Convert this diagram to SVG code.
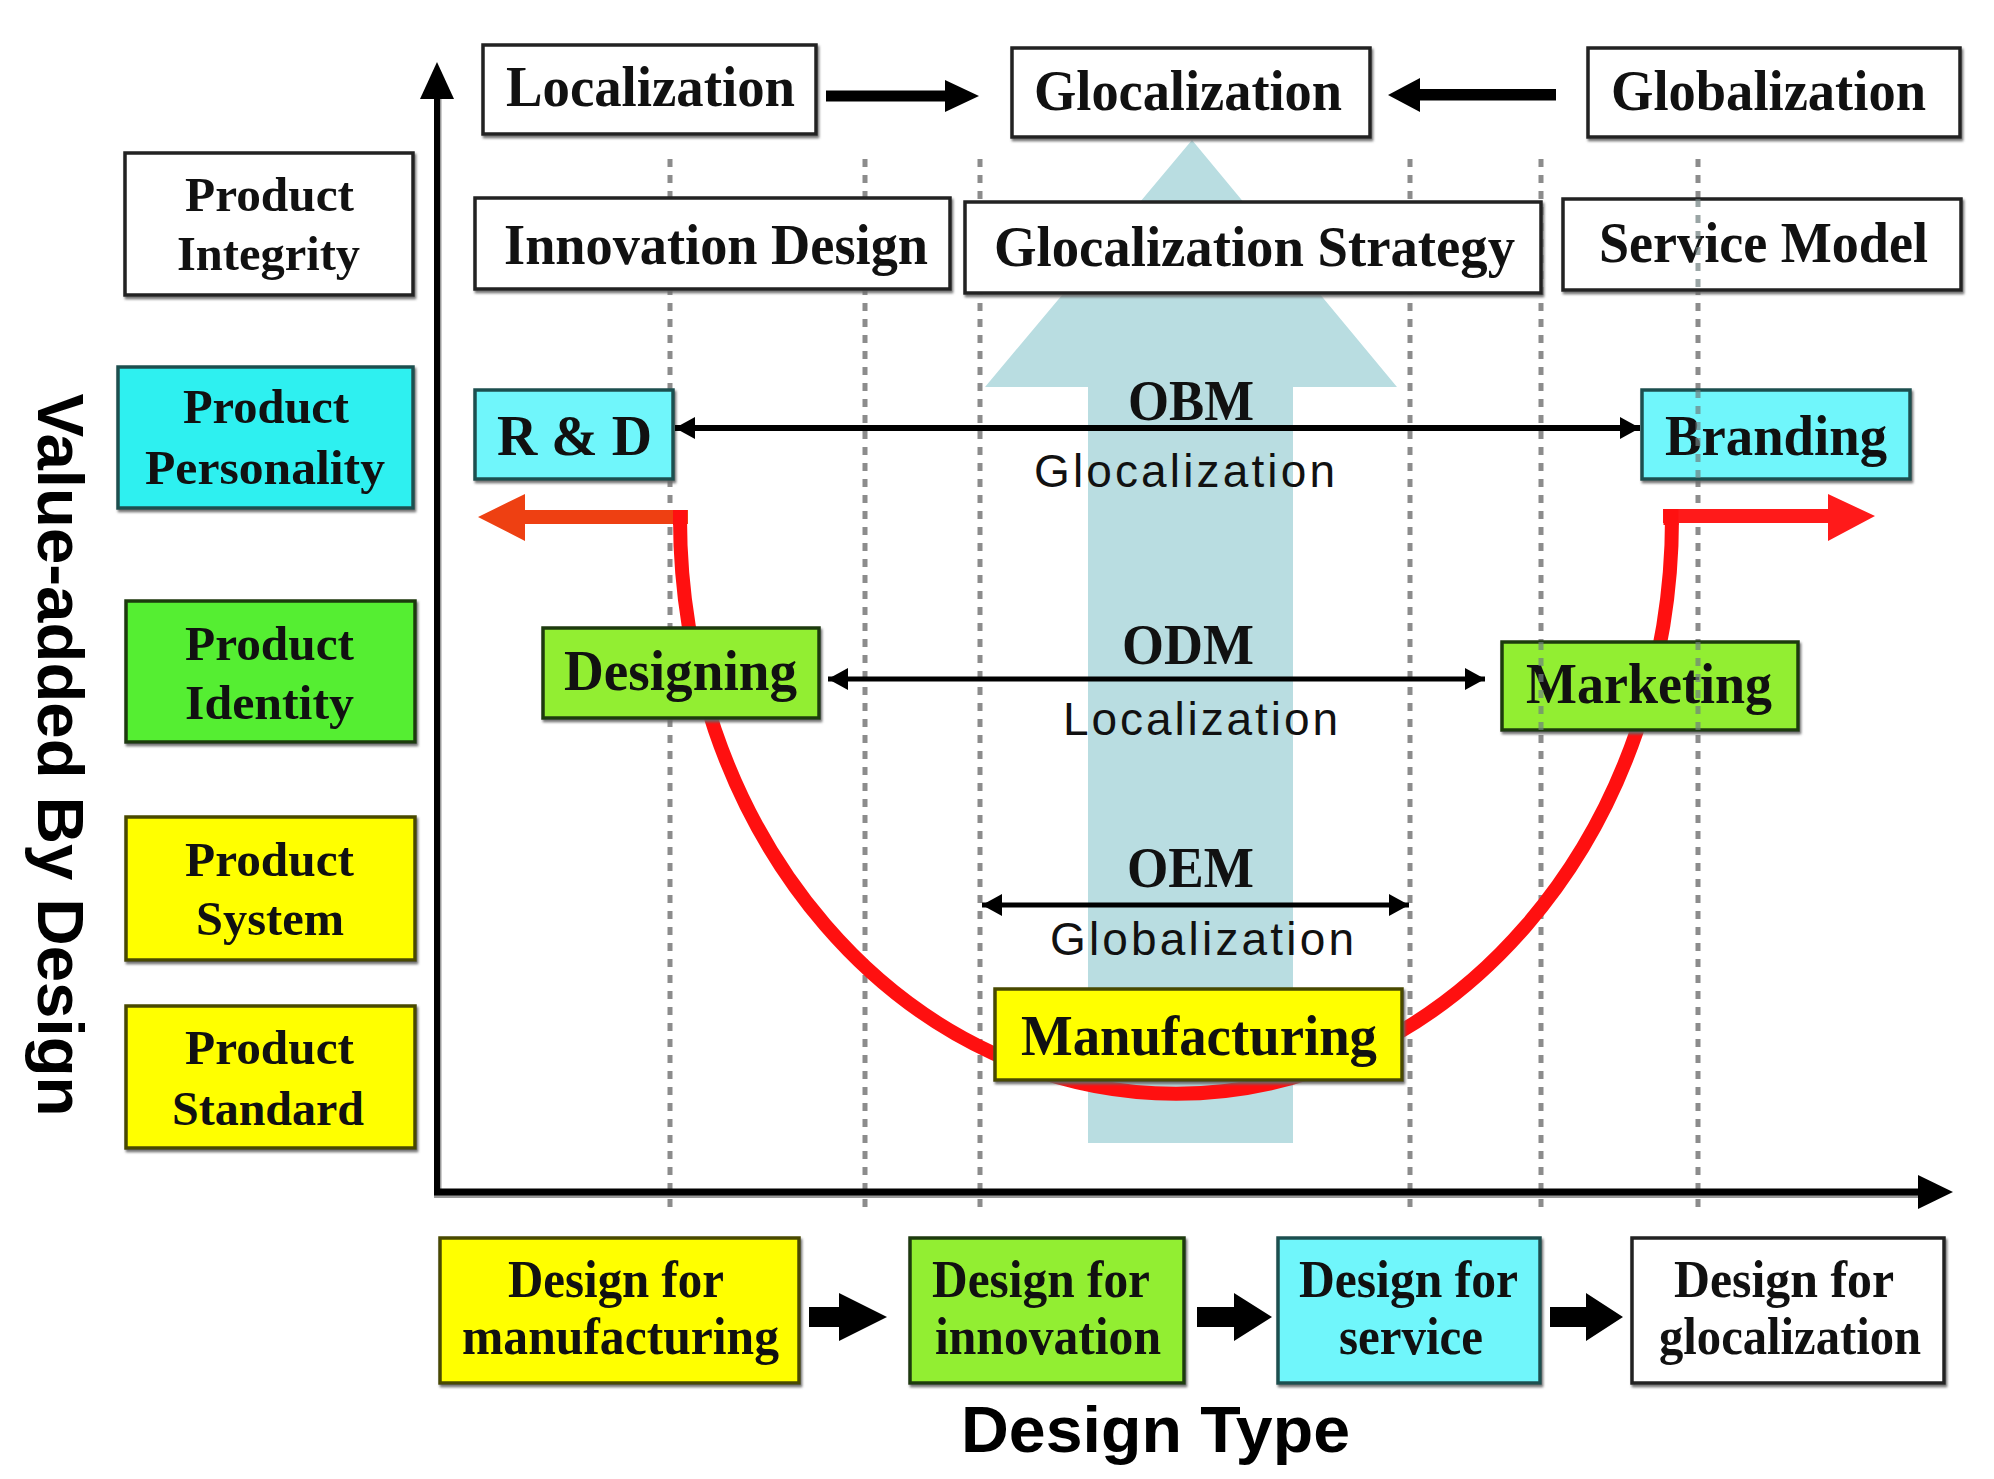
<svg xmlns="http://www.w3.org/2000/svg" width="1994" height="1479" viewBox="0 0 1994 1479">
<defs>
<filter id="sh" x="-5%" y="-5%" width="110%" height="115%"><feDropShadow dx="1.5" dy="2.5" stdDeviation="1" flood-color="#666" flood-opacity="0.9"/></filter>
<marker id="ah" viewBox="0 0 20 22" refX="20" refY="11" markerWidth="20" markerHeight="22" markerUnits="userSpaceOnUse" orient="auto-start-reverse"><path d="M0,0 L20,11 L0,22 Z" fill="#000"/></marker>
<style>
.bx{stroke-width:3.5;filter:url(#sh)}
.w{fill:#fff;stroke:#222}
.cy{fill:#2ef0f0;stroke:#1f5050}
.cl{fill:#70f6fb;stroke:#1f5050}
.gr{fill:#55ee33;stroke:#1e3a10}
.gl{fill:#92ee30;stroke:#1e3a10}
.ye{fill:#ffff00;stroke:#4a4a00}
.s{font-family:"Liberation Serif","Times New Roman",serif;font-weight:bold;fill:#111}
.f57{font-size:57px}
.f48{font-size:48px}
.f52{font-size:52px}
.n{font-family:"Liberation Sans",Arial,sans-serif;font-size:46px;fill:#111}
.t{font-family:"Liberation Sans",Arial,sans-serif;font-weight:bold;font-size:64px;fill:#000}
.dot{stroke:#8c8c8c;stroke-width:5;stroke-dasharray:8 8;fill:none}
.dov{stroke:#6f7f7f;stroke-width:5;stroke-dasharray:8 8;fill:none;opacity:0.7}
.ln{stroke:#000;fill:none;marker-start:url(#ah);marker-end:url(#ah)}
</style>
</defs>
<rect width="1994" height="1479" fill="#fff"/>

<!-- big light-blue arrow -->
<path id="bigArrow" d="M1192,140 L1397,387 L1293,387 L1293,1143 L1088,1143 L1088,387 L985,387 Z" fill="#b9dde1"/>

<!-- dotted guide lines -->
<g id="guides">
<line class="dot" x1="670" y1="159" x2="670" y2="1215"/>
<line class="dot" x1="865" y1="159" x2="865" y2="1215"/>
<line class="dot" x1="980" y1="159" x2="980" y2="1215"/>
<line class="dot" x1="1410" y1="159" x2="1410" y2="1215"/>
<line class="dot" x1="1541" y1="159" x2="1541" y2="1215"/>
<line class="dot" x1="1698" y1="159" x2="1698" y2="1215"/>
</g>

<!-- axes -->
<g id="axes">
<line x1="440" y1="1195" x2="440" y2="96" stroke="#999" stroke-width="3"/>
<line x1="437" y1="1195" x2="437" y2="96" stroke="#000" stroke-width="6"/>
<path d="M437,62 L454,99 L420,99 Z" fill="#000"/>
<line x1="434" y1="1196" x2="1922" y2="1196" stroke="#999" stroke-width="4"/>
<line x1="434" y1="1192" x2="1922" y2="1192" stroke="#000" stroke-width="7"/>
<path d="M1953,1192 L1918,1175 L1918,1209 Z" fill="#000"/>
</g>

<!-- red smile curve -->
<g id="smile">
<path d="M680,518 A496,576 0 0 0 1672,518" fill="none" stroke="#ff1010" stroke-width="14"/>
<polygon points="688,510 525,510 525,494 478,517 525,541 525,524 688,524" fill="#ee4012"/>
<polygon points="1663,509 1828,509 1828,494 1875,516 1828,541 1828,523 1663,523" fill="#ff1a1a"/>
<line x1="680" y1="510" x2="680" y2="525" stroke="#ff1010" stroke-width="14"/>
<line x1="1671" y1="509" x2="1671" y2="525" stroke="#ff1010" stroke-width="15"/>
</g>

<!-- nodes -->
<g id="n-localization"><rect class="bx w" x="483" y="45" width="333" height="89"/><text class="s f57" x="506" y="106" textLength="289" lengthAdjust="spacingAndGlyphs">Localization</text></g>
<g id="n-glocalization"><rect class="bx w" x="1012" y="48" width="358" height="89"/><text class="s f57" x="1034" y="110" textLength="308" lengthAdjust="spacingAndGlyphs">Glocalization</text></g>
<g id="n-globalization"><rect class="bx w" x="1588" y="48" width="372" height="89"/><text class="s f57" x="1611" y="110" textLength="315" lengthAdjust="spacingAndGlyphs">Globalization</text></g>

<g id="n-integrity"><rect class="bx w" x="125" y="153" width="288" height="142"/><text class="s f48" x="185" y="211" textLength="169" lengthAdjust="spacingAndGlyphs">Product</text><text class="s f48" x="177" y="270" textLength="183" lengthAdjust="spacingAndGlyphs">Integrity</text></g>
<g id="n-innovation-design"><rect class="bx w" x="475" y="198" width="475" height="91"/><text class="s f57" x="504" y="264" textLength="424" lengthAdjust="spacingAndGlyphs">Innovation Design</text></g>
<g id="n-glocalization-strategy"><rect class="bx w" x="965" y="202" width="576" height="91"/><text class="s f57" x="994" y="266" textLength="521" lengthAdjust="spacingAndGlyphs">Glocalization Strategy</text></g>
<g id="n-service-model"><rect class="bx w" x="1563" y="199" width="398" height="91"/><text class="s f57" x="1599" y="262" textLength="329" lengthAdjust="spacingAndGlyphs">Service Model</text></g>

<g id="n-personality"><rect class="bx cy" x="118" y="367" width="295" height="141"/><text class="s f48" x="183" y="423" textLength="166" lengthAdjust="spacingAndGlyphs">Product</text><text class="s f48" x="145" y="484" textLength="240" lengthAdjust="spacingAndGlyphs">Personality</text></g>
<g id="n-rd"><rect class="bx cl" x="475" y="390" width="198" height="89"/><text class="s f57" x="497" y="455" textLength="155" lengthAdjust="spacingAndGlyphs">R &amp; D</text></g>
<g id="n-branding"><rect class="bx cl" x="1642" y="390" width="268" height="89"/><text class="s f57" x="1665" y="455" textLength="222" lengthAdjust="spacingAndGlyphs">Branding</text></g>

<g id="n-identity"><rect class="bx gr" x="126" y="601" width="289" height="141"/><text class="s f48" x="185" y="660" textLength="169" lengthAdjust="spacingAndGlyphs">Product</text><text class="s f48" x="185" y="719" textLength="169" lengthAdjust="spacingAndGlyphs">Identity</text></g>
<g id="n-designing"><rect class="bx gl" x="543" y="628" width="276" height="90"/><text class="s f57" x="564" y="690" textLength="233" lengthAdjust="spacingAndGlyphs">Designing</text></g>
<g id="n-marketing"><rect class="bx gl" x="1502" y="642" width="296" height="88"/><text class="s f57" x="1526" y="703" textLength="246" lengthAdjust="spacingAndGlyphs">Marketing</text></g>

<g id="n-system"><rect class="bx ye" x="126" y="817" width="289" height="143"/><text class="s f48" x="185" y="876" textLength="169" lengthAdjust="spacingAndGlyphs">Product</text><text class="s f48" x="196" y="935" textLength="148" lengthAdjust="spacingAndGlyphs">System</text></g>
<g id="n-standard"><rect class="bx ye" x="126" y="1006" width="289" height="142"/><text class="s f48" x="185" y="1064" textLength="169" lengthAdjust="spacingAndGlyphs">Product</text><text class="s f48" x="172" y="1125" textLength="192" lengthAdjust="spacingAndGlyphs">Standard</text></g>
<g id="n-manufacturing"><rect class="bx ye" x="995" y="989" width="407" height="91"/><text class="s f57" x="1021" y="1055" textLength="356" lengthAdjust="spacingAndGlyphs">Manufacturing</text></g>

<g id="n-dfm"><rect class="bx ye" x="440" y="1238" width="359" height="145"/><text class="s f52" x="508" y="1297" textLength="216" lengthAdjust="spacingAndGlyphs">Design for</text><text class="s f52" x="462" y="1354" textLength="317" lengthAdjust="spacingAndGlyphs">manufacturing</text></g>
<g id="n-dfi"><rect class="bx gl" x="910" y="1238" width="274" height="145"/><text class="s f52" x="932" y="1297" textLength="218" lengthAdjust="spacingAndGlyphs">Design for</text><text class="s f52" x="935" y="1354" textLength="226" lengthAdjust="spacingAndGlyphs">innovation</text></g>
<g id="n-dfs"><rect class="bx cl" x="1278" y="1238" width="262" height="145"/><text class="s f52" x="1299" y="1297" textLength="219" lengthAdjust="spacingAndGlyphs">Design for</text><text class="s f52" x="1339" y="1354" textLength="144" lengthAdjust="spacingAndGlyphs">service</text></g>
<g id="n-dfg"><rect class="bx w" x="1632" y="1238" width="312" height="145"/><text class="s f52" x="1674" y="1297" textLength="220" lengthAdjust="spacingAndGlyphs">Design for</text><text class="s f52" x="1659" y="1354" textLength="262" lengthAdjust="spacingAndGlyphs">glocalization</text></g>

<!-- guide lines visible over some boxes -->
<g id="guides-over">
<line class="dov" x1="1698" y1="199" x2="1698" y2="292"/>
<line class="dov" x1="1698" y1="390" x2="1698" y2="481"/>
<line class="dov" x1="1698" y1="642" x2="1698" y2="732"/>
<line class="dov" x1="1541" y1="642" x2="1541" y2="732"/>
</g>

<!-- connectors -->
<g id="connectors">
<line class="ln" x1="675" y1="428" x2="1640" y2="428" stroke-width="6"/>
<line class="ln" x1="828" y1="679" x2="1485" y2="679" stroke-width="5"/>
<line class="ln" x1="982" y1="905" x2="1409" y2="905" stroke-width="5"/>
<polygon points="826,90.5 945,90.5 945,80 979,96 945,112 945,101.5 826,101.5" fill="#000"/>
<polygon points="1556,89 1420,89 1420,78 1388,95 1420,112 1420,100.5 1556,100.5" fill="#000"/>
<polygon points="809,1307 839,1307 839,1293 887,1317 839,1341 839,1327 809,1327" fill="#000"/>
<polygon points="1197,1307 1234,1307 1234,1293 1272,1317 1234,1341 1234,1327 1197,1327" fill="#000"/>
<polygon points="1550,1307 1586,1307 1586,1293 1623,1317 1586,1341 1586,1327 1550,1327" fill="#000"/>
</g>

<!-- connector labels -->
<g id="labels">
<text class="s f57" x="1128" y="420" textLength="126" lengthAdjust="spacingAndGlyphs">OBM</text>
<text class="n" x="1034" y="487" textLength="301">Glocalization</text>
<text class="s f57" x="1122" y="664" textLength="132" lengthAdjust="spacingAndGlyphs">ODM</text>
<text class="n" x="1063" y="735" textLength="275">Localization</text>
<text class="s f57" x="1127" y="887" textLength="127" lengthAdjust="spacingAndGlyphs">OEM</text>
<text class="n" x="1050" y="955" textLength="304">Globalization</text>
</g>

<!-- axis titles -->
<text class="t" x="961" y="1452" textLength="389" lengthAdjust="spacingAndGlyphs">Design Type</text>
<text class="t" transform="translate(38,755) rotate(90)" text-anchor="middle" textLength="723" lengthAdjust="spacingAndGlyphs">Value-added By Design</text>
</svg>
